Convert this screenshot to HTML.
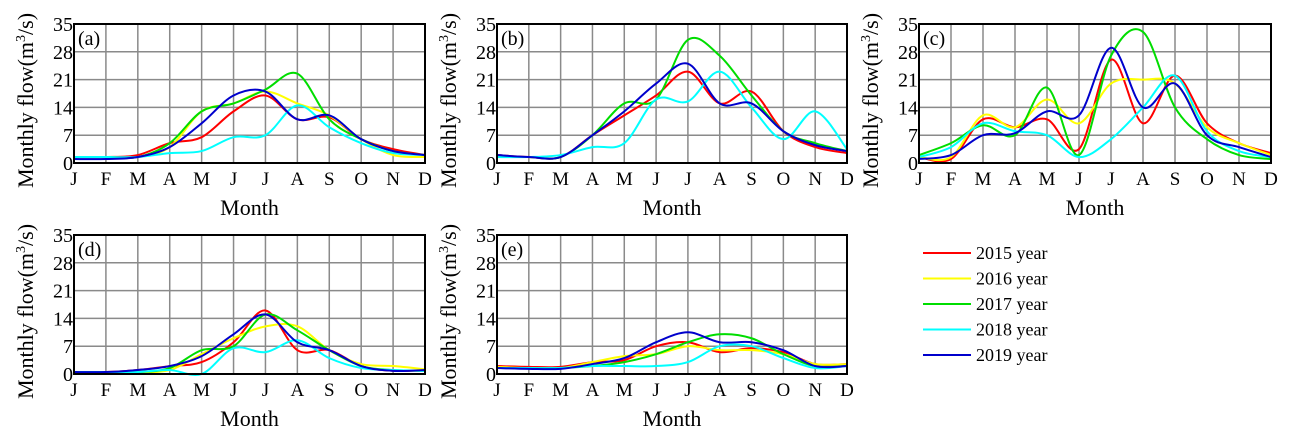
<!DOCTYPE html>
<html><head><meta charset="utf-8"><style>
body{margin:0;background:#fff;}
svg{display:block;font-family:"Liberation Serif",serif;}
</style></head><body>
<svg id="chart" width="1293" height="445" viewBox="0 0 1293 445" xmlns="http://www.w3.org/2000/svg"></svg>
<script>
const months = ["J","F","M","A","M","J","J","A","S","O","N","D"];
const yTicks = [0,7,14,21,28,35];
const years = ["2015 year","2016 year","2017 year","2018 year","2019 year"];
const colors = ["#ff0000","#ffff00","#00dd00","#00ffff","#0000cc"];
const panelLabels = ["(a)","(b)","(c)","(d)","(e)"];
const seriesA_2015 = [1.5,1.5,2,5,6.5,13,17,11,11.5,6,3.5,2];
const seriesA_2016 = [1.5,1.5,1.5,4,13,15,18,15,12,6,2,1.5];
const seriesA_2017 = [1.5,1.5,1.5,5,13,15,18.5,22.5,11,6,3,2];
const seriesA_2018 = [1.5,1.5,1.5,2.5,3,6.5,7,14.5,9,5,2.5,2];
const seriesA_2019 = [1,1,1.5,4,10,17,18,11,12,6,3,2];
const seriesB_2015 = [2,1.5,1.5,7,12,17,23,15,18,8,4,2.5];
const seriesB_2017 = [1.5,1.5,1.5,7,15,16,31,27,17,8,5,3];
const seriesB_2018 = [1.5,1.5,2,4,5,16,15.5,23,14,6,13,3.5];
const seriesB_2019 = [2,1.5,1.5,7,13,20,25,15,15,8,4.5,3];
const seriesC_2015 = [1.5,1,11,9,11,3.5,26,10,22,10,5,2.5];
const seriesC_2016 = [1.5,1.5,12,9,16,10,20,21,20,9,5,2];
const seriesC_2017 = [2,5,9.5,7,19,2,27,33,14,6,2,1];
const seriesC_2018 = [1.5,4,10,8,7,1.5,6,14,22,8,3,1.5];
const seriesC_2019 = [1,2,7,7.5,13,12,29,14,20,7,4,1.5];
const seriesD_2015 = [0.5,0.5,1,2,3,8,16,6,6,2,0.8,1];
const seriesD_2016 = [0.5,0.5,0.5,1,5,9,12,12,6,2.5,2,1.2];
const seriesD_2017 = [0.5,0.5,0.5,1.5,6,7,15,11,6,2,1,0.8];
const seriesD_2018 = [0.5,0.5,0.5,1,0,6.5,5.5,8.5,4,1.5,1,0.8];
const seriesD_2019 = [0.5,0.5,1,2,4.5,10,15,8,6,2,0.8,1];
const seriesE_2015 = [2,1.8,1.8,3,3.5,7,8,5.5,6.5,5.5,2.5,2.5];
const seriesE_2016 = [1.8,1.5,1.5,3,4.5,5,7,6,6,5,2.5,2.5];
const seriesE_2017 = [1.5,1.5,1.5,2,3,5,8,10,9,5,2,2];
const seriesE_2018 = [1.5,1.5,1.5,2,2,2,3,7,7,4,1.5,2];
const seriesE_2019 = [1.5,1.3,1.3,2.5,4,8,10.5,8,8,6,2,2];

const panels = [
 {x0:74,x1:425,y0:24,y1:163,series:[seriesA_2015,seriesA_2016,seriesA_2017,seriesA_2018,seriesA_2019]},
 {x0:497,x1:847,y0:24,y1:163,series:[seriesB_2015,null,seriesB_2017,seriesB_2018,seriesB_2019]},
 {x0:919,x1:1271,y0:24,y1:163,series:[seriesC_2015,seriesC_2016,seriesC_2017,seriesC_2018,seriesC_2019]},
 {x0:74,x1:425,y0:235,y1:374,series:[seriesD_2015,seriesD_2016,seriesD_2017,seriesD_2018,seriesD_2019]},
 {x0:497,x1:847,y0:235,y1:374,series:[seriesE_2015,seriesE_2016,seriesE_2017,seriesE_2018,seriesE_2019]}
];
const NS="http://www.w3.org/2000/svg";
const svg=document.getElementById('chart');
function mk(tag,attrs,parent,text){const e=document.createElementNS(NS,tag);for(const k in attrs)e.setAttribute(k,attrs[k]);if(text!==undefined)e.textContent=text;(parent||svg).appendChild(e);return e;}
function spline(pts){let d=`M${pts[0][0]},${pts[0][1]}`;for(let i=0;i<pts.length-1;i++){const p0=pts[Math.max(0,i-1)],p1=pts[i],p2=pts[i+1],p3=pts[Math.min(pts.length-1,i+2)];const c1x=p1[0]+(p2[0]-p0[0])/6,c1y=p1[1]+(p2[1]-p0[1])/6,c2x=p2[0]-(p3[0]-p1[0])/6,c2y=p2[1]-(p3[1]-p1[1])/6;d+=` C${c1x},${c1y} ${c2x},${c2y} ${p2[0]},${p2[1]}`;}return d;}
panels.forEach((p,pi)=>{
 const g=mk('g',{});
 
 
 const xs=i=>p.x0+(p.x1-p.x0)*i/11;
 const ys=v=>p.y1-(p.y1-p.y0)*v/35;
 yTicks.forEach(t=>{const l=mk('line',{x1:p.x0,x2:p.x1,y1:ys(t),y2:ys(t),stroke:'#8a8a8a','stroke-width':1.5},g);
  const tx=mk('text',{x:p.x0-1,y:ys(t)+7,'text-anchor':'end','font-size':20},g,String(t));});
 months.forEach((m,i)=>{const l=mk('line',{x1:xs(i),x2:xs(i),y1:p.y0,y2:p.y1,stroke:'#8a8a8a','stroke-width':1.5},g);
  const tx=mk('text',{x:xs(i),y:p.y1+22,'text-anchor':'middle','font-size':19},g,m);});
 p.series.forEach((s,si)=>{if(!s)return;const pts=s.map((v,i)=>[xs(i),ys(v)]);const path=mk('path',{d:spline(pts),fill:'none',stroke:colors[si],'stroke-width':2},g);});
 const fr=mk('rect',{x:p.x0,y:p.y0,width:p.x1-p.x0,height:p.y1-p.y0,fill:'none',stroke:'#000','stroke-width':2},g);
 const lb=mk('text',{x:p.x0+4,y:p.y0+21,'font-size':20},g,panelLabels[pi]);
 const xt=mk('text',{x:(p.x0+p.x1)/2,y:p.y1+52,'text-anchor':'middle','font-size':22},g,'Month');
 const cy=(p.y0+p.y1)/2+7,cx=p.x0-41;
 const yt=mk('text',{x:cx,y:cy,'text-anchor':'middle','font-size':22,transform:`rotate(-90 ${cx} ${cy})`},g);
 
 yt.innerHTML='Monthly flow(m<tspan dy="-8" font-size="14">3</tspan><tspan dy="8">/s)</tspan>';
});
const lg=mk('g',{});


years.forEach((y,i)=>{const yy=253+i*25.5;
 const l=mk('line',{x1:923,x2:971,y1:yy,y2:yy,stroke:colors[i],'stroke-width':2},lg);
 const t=mk('text',{x:976,y:yy+6,'font-size':18},lg,y);});
</script>
</body></html>
